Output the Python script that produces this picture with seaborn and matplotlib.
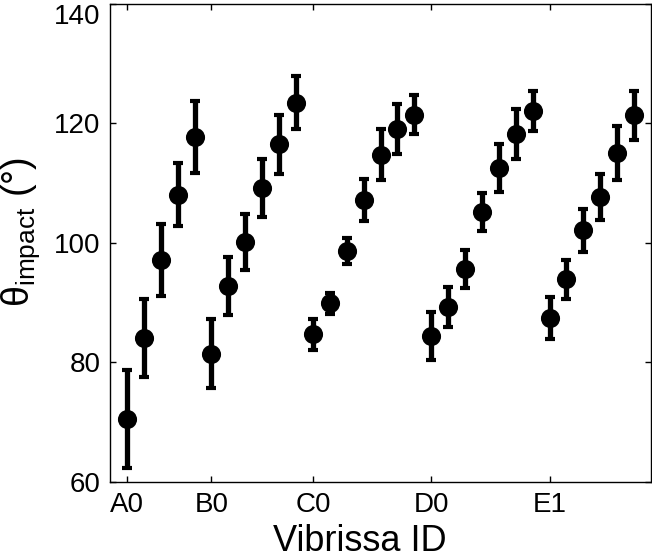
import pandas as pd
import matplotlib
matplotlib.use("Agg")
import matplotlib.pyplot as plt
import seaborn as sns

# Vibrissa IDs (one row after another) and impact angle mean / error
whiskers = ["A0", "A1", "A2", "A3", "A4",
            "B0", "B1", "B2", "B3", "B4", "B5",
            "C0", "C1", "C2", "C3", "C4", "C5", "C6",
            "D0", "D1", "D2", "D3", "D4", "D5", "D6",
            "E1", "E2", "E3", "E4", "E5", "E6"]
theta = [70.5, 84.1, 97.2, 108.1, 117.7,
         81.5, 92.8, 100.1, 109.2, 116.5, 123.5,
         84.7, 89.9, 98.6, 107.2, 114.8, 119.1, 121.5,
         84.5, 89.3, 95.6, 105.2, 112.5, 118.3, 122.1,
         87.5, 93.9, 102.1, 107.7, 115.1, 121.4]
theta_err = [8.2, 6.6, 6.0, 5.3, 6.0,
             5.7, 4.8, 4.7, 4.9, 5.0, 4.5,
             2.6, 1.8, 2.2, 3.5, 4.3, 4.2, 3.2,
             4.0, 3.4, 3.2, 3.2, 4.0, 4.2, 3.4,
             3.5, 3.3, 3.6, 3.9, 4.5, 4.1]
tick_labels = ["A0", "B0", "C0", "D0", "E1"]

df = pd.DataFrame({"whisker": whiskers, "theta": theta, "err": theta_err})
df["pos"] = range(len(df))

sns.set_style("ticks")
plt.rcParams["font.family"] = ["Liberation Sans", "DejaVu Sans"]
plt.rcParams["mathtext.fontset"] = "custom"
plt.rcParams["mathtext.rm"] = "Liberation Sans"
plt.rcParams["mathtext.it"] = "Liberation Sans"
plt.rcParams["text.color"] = "black"
plt.rcParams["axes.labelcolor"] = "black"

fig = plt.figure(figsize=(6.52, 5.60), dpi=100)
ax = fig.add_axes([0.1687, 0.1393, 0.8298, 0.8536])

ax.errorbar(df["pos"], df["theta"], yerr=df["err"], fmt="none",
            ecolor="black", elinewidth=3.8, capsize=3.8, capthick=3.0,
            zorder=2)
sns.scatterplot(data=df, x="pos", y="theta", color="black", s=190,
                edgecolor="black", linewidth=0, ax=ax, zorder=3)

ax.set_xlim(-1, 31)
ax.set_ylim(60, 140)
ax.set_yticks([60, 80, 100, 120, 140])
tick_pos = [df.loc[df["whisker"] == t, "pos"].iloc[0] for t in tick_labels]
ax.set_xticks(tick_pos)
ax.set_xticklabels(tick_labels)

for side in ["top", "right", "left", "bottom"]:
    ax.spines[side].set_visible(True)
    ax.spines[side].set_linewidth(1.0)
    ax.spines[side].set_color("black")
ax.tick_params(direction="in", length=4, width=1, top=True, right=True,
               labelsize=20, pad=7, colors="black")
# keep the top tick label inside the figure
ax.get_yticklabels()[-1].set_va("top")

ax.set_xlabel("Vibrissa ID", fontsize=26)
ax.xaxis.set_label_coords(0.462, -0.088)
ax.set_ylabel("")
# y label placed by its bounding box so the subscript does not push it off
fig.text(0.064, 0.586, r"θ$_{\mathrm{impact}}$ (°)", fontsize=27,
         rotation=90, ha="right", va="center")

fig.savefig("out.png", dpi=100)
